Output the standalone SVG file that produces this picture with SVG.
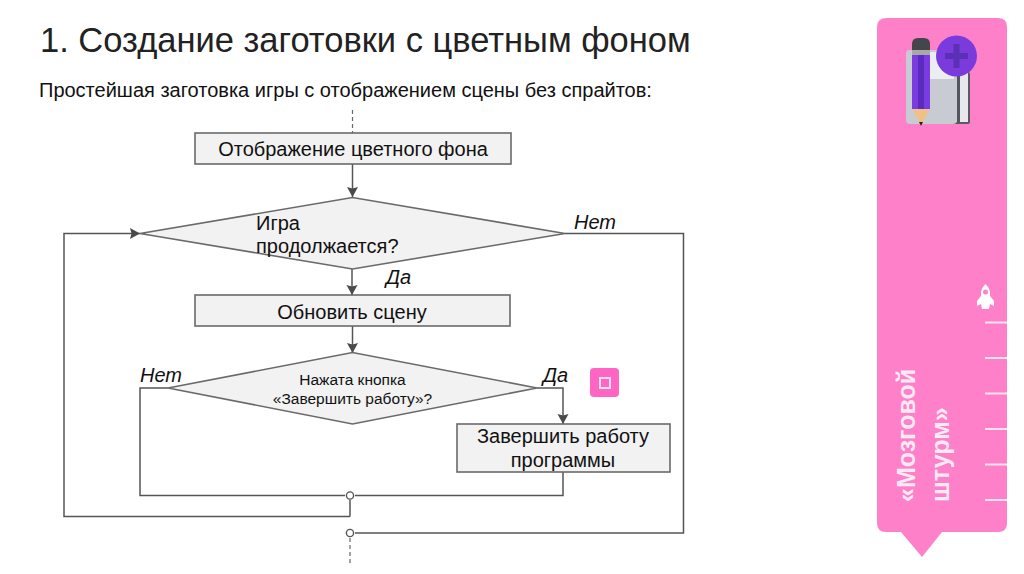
<svg xmlns="http://www.w3.org/2000/svg" width="1024" height="574" viewBox="0 0 1024 574">
<defs>
<marker id="arr" markerUnits="userSpaceOnUse" markerWidth="11" markerHeight="12" refX="10" refY="5.5" orient="auto"><path d="M0 0L10 5.5L0 11L1.5 5.5Z" fill="#4a4a4a"/></marker>
</defs>
<style>
text{font-family:"Liberation Sans",Arial,sans-serif;fill:#111}
.box{fill:#f2f2f2;stroke:#6a6a6a;stroke-width:1.6}
.c{fill:none;stroke:#555;stroke-width:1.5}
.d{fill:none;stroke:#666;stroke-width:1.2;stroke-dasharray:4 3}
.j{fill:#fff;stroke:#555;stroke-width:1.4}
.t{font-size:20px;text-anchor:middle}
.s{font-size:15.500px;text-anchor:middle}
.l{font-size:20px;font-style:italic}
.tick{stroke:#fbe4f1;stroke-width:2;fill:none}
.side{font-size:25px;font-weight:bold;fill:#fdeaf5}
</style>
<rect width="1024" height="574" fill="#fff"/>
<text x="40" y="52" font-size="34.500" fill="#222" style="fill:#222">1. Создание заготовки с цветным фоном</text>
<text x="39" y="97" font-size="20">Простейшая заготовка игры с отображением сцены без спрайтов:</text>
<g id="connectors">
<path class="d" d="M352.500 110V133"/>
<path class="c" marker-end="url(#arr)" d="M352.500 164V197"/>
<path class="c" marker-end="url(#arr)" d="M352 269V295"/>
<path class="c" marker-end="url(#arr)" d="M352.500 326V353"/>
<path class="c" marker-end="url(#arr)" d="M350 516.500H64V233.500H140"/>
<path class="c" d="M565 233.500H683.500V533H355"/>
<path class="c" d="M168 388H140V495.500H345"/>
<path class="c" d="M355 495.500H563V472"/>
<path class="c" marker-end="url(#arr)" d="M537 388H563V424"/>
<path class="c" d="M350 500V516.500"/>
<path class="d" d="M350 538V564"/>
<circle class="j" cx="350" cy="495.500" r="3.600"/>
<circle class="j" cx="350" cy="533" r="3.600"/>
</g>
<g id="node-background"><rect class="box" x="195" y="133" width="316" height="31"/><text class="t" x="353" y="156">Отображение цветного фона</text></g>
<g id="node-continue"><path class="box" d="M140 233.500L352.500 197.500L565 233.500L352.500 269Z"/><text x="256" y="230" font-size="20">Игра</text><text x="256" y="253" font-size="20">продолжается?</text></g>
<g id="node-update"><rect class="box" x="195" y="295" width="315" height="31"/><text class="t" x="352" y="319">Обновить сцену</text></g>
<g id="node-pressed"><path class="box" d="M168 388L352.500 352.500L537 388L352.500 424Z"/><text class="s" x="352.500" y="385">Нажата кнопка</text><text class="s" x="352.500" y="404">«Завершить работу»?</text></g>
<g id="node-finish"><rect class="box" x="457" y="424" width="213" height="48"/><text class="t" x="563" y="443">Завершить работу</text><text class="t" x="563" y="467">программы</text></g>
<g id="labels">
<text class="l" x="574" y="229">Нет</text>
<text class="l" x="386" y="284">Да</text>
<text class="l" x="140" y="382">Нет</text>
<text class="l" x="543" y="382">Да</text>
</g>
<g id="stop-button"><rect x="590" y="368" width="29" height="29" rx="4" fill="#ff66c4"/><rect x="600" y="378" width="10" height="10" fill="none" stroke="#fbe0f0" stroke-width="2"/></g>
<g id="sidebar">
<path d="M887 18H998Q1007 18 1007 27V523Q1007 532 998 532H942L922 557L901 532H886Q877 532 877 523V27Q877 18 887 18Z" fill="#fd80c9"/>
<g id="icon">
<rect x="950" y="72" width="20" height="52" rx="2" fill="#5a5a62"/>
<rect x="950" y="72" width="18" height="50" fill="#e8e8ec"/>
<rect x="957" y="72" width="3" height="51" fill="#55555f"/>
<rect x="906" y="50" width="51" height="74" rx="4" fill="#c9cbd3"/>
<rect x="930" y="52" width="24" height="27" fill="#eceDf3"/>
<path d="M912 108H930L921 126Z" fill="#f0c186"/>
<path d="M919 122H923L921 126Z" fill="#222"/>
<rect x="912" y="54" width="18" height="55" fill="#7a3be0"/><rect x="918" y="54" width="6" height="55" fill="#5b2bc0"/>
<rect x="912" y="50" width="18" height="5" fill="#a8a8a8"/>
<path d="M912 50V44Q912 38 918 38H924Q930 38 930 44V50Z" fill="#45454c"/>
<circle cx="956.500" cy="56" r="20.500" fill="#7a3bdc"/>
<path d="M956.500 44V68M945 56H968" stroke="#5c30b4" stroke-width="6" fill="none"/>
</g>
<g id="rocket"><path d="M985.500 284Q989 287 990 292V296L994 301V306L990 304L989 309H982L981 304L977 306V301L981 296V292Q982 287 985.500 284Z" fill="#fff"/><circle cx="985.500" cy="292" r="2.500" fill="#fd80c9"/></g>
<path class="tick" d="M985 322.500H1007M985 358H1007M985 393.500H1007M985 429H1007M985 464.500H1007M985 500H1007"/>
<text class="side" transform="translate(915 502) rotate(-90)">«Мозговой</text>
<text class="side" transform="translate(949 502) rotate(-90)">штурм»</text>
</g>
</svg>
